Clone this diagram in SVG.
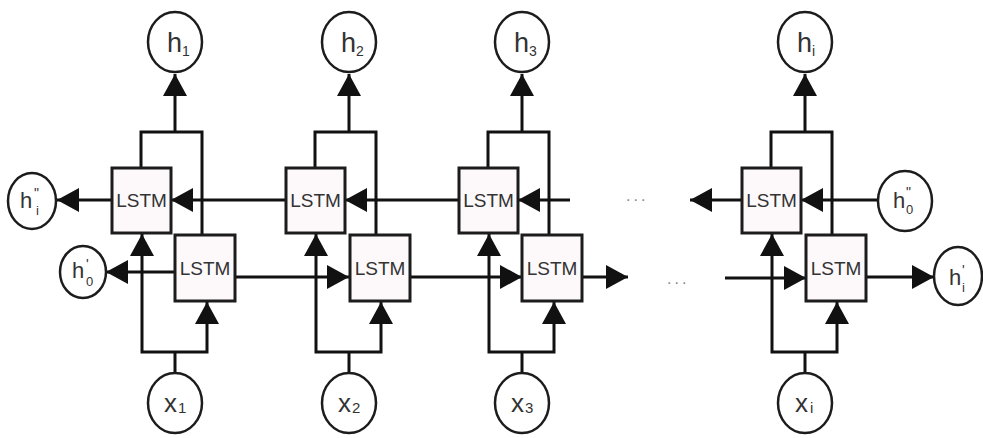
<svg xmlns="http://www.w3.org/2000/svg" width="983" height="438" viewBox="0 0 983 438">
  <style>
    .wire { fill: none; stroke: #111; stroke-width: 3; }
    .arr { marker-end: url(#head); }
    .box { fill: #fdf9fb; stroke: #1c1c1c; stroke-width: 3; }
    .node { fill: #fff; stroke: #1c1c1c; stroke-width: 2.5; }
    .cell { font-family: "Liberation Sans", Arial, sans-serif; font-size: 19px; fill: #333; text-anchor: middle; }
    .lbl { font-family: "Liberation Sans", Arial, sans-serif; fill: #333; }
    .big { font-size: 27px; }
    .mid { font-size: 22px; }
    .xl { font-size: 26px; }
    .sub { font-size: 14px; }
    .idx { font-size: 13px; }
    .xs { font-size: 15px; }
    .mark { font-size: 14px; }
    .dots { font-family: "Liberation Sans", Arial, sans-serif; font-size: 16px; fill: #888; letter-spacing: 3px; }
  </style>
  <defs>
    <marker id="head" markerUnits="userSpaceOnUse" markerWidth="22" markerHeight="24" refX="22" refY="12" orient="auto">
      <path d="M0,0 L22,12 L0,24 Z" fill="#111"/>
    </marker>
  </defs>

  <!-- connectors -->
  <g id="connectors">
    <!-- column 1 -->
    <path class="wire arr" d="M175,132 V74"/>
    <path class="wire" d="M141,168 V132 H202 V235"/>
    <path class="wire" d="M175,373 V352"/>
    <path class="wire arr" d="M175,352 H142 V234"/>
    <path class="wire arr" d="M175,352 H207 V302"/>
    <!-- column 2 -->
    <path class="wire arr" d="M349,132 V74"/>
    <path class="wire" d="M315,168 V132 H376 V235"/>
    <path class="wire" d="M349,373 V352"/>
    <path class="wire arr" d="M349,352 H316 V234"/>
    <path class="wire arr" d="M349,352 H381 V302"/>
    <!-- column 3 -->
    <path class="wire arr" d="M522,132 V74"/>
    <path class="wire" d="M488,168 V132 H549 V235"/>
    <path class="wire" d="M522,373 V352"/>
    <path class="wire arr" d="M522,352 H489 V234"/>
    <path class="wire arr" d="M522,352 H554 V302"/>
    <!-- column i -->
    <path class="wire arr" d="M805,132 V74"/>
    <path class="wire" d="M771,168 V132 H832 V235"/>
    <path class="wire" d="M805,373 V352"/>
    <path class="wire arr" d="M805,352 H772 V234"/>
    <path class="wire arr" d="M805,352 H837 V302"/>

    <!-- backward row -->
    <path class="wire arr" d="M112,200 H57"/>
    <path class="wire arr" d="M286,200 H171"/>
    <path class="wire arr" d="M459,200 H345"/>
    <path class="wire arr" d="M570,200 H518"/>
    <path class="wire arr" d="M742,200 H690"/>
    <path class="wire arr" d="M878,200 H801"/>

    <!-- forward row -->
    <path class="wire arr" d="M175,272 H106"/>
    <path class="wire arr" d="M235,277 H349"/>
    <path class="wire arr" d="M410,277 H522"/>
    <path class="wire arr" d="M582,277 H628"/>
    <path class="wire arr" d="M725,278 H806"/>
    <path class="wire arr" d="M865,277 H934"/>
  </g>

  <!-- LSTM cells -->
  <g id="lstm-b1"><rect class="box" x="112" y="168" width="59" height="65"/><text class="cell" x="141.5" y="207">LSTM</text></g>
  <g id="lstm-f1"><rect class="box" x="175" y="235" width="60" height="66"/><text class="cell" x="205" y="275">LSTM</text></g>
  <g id="lstm-b2"><rect class="box" x="286" y="168" width="59" height="65"/><text class="cell" x="315.5" y="207">LSTM</text></g>
  <g id="lstm-f2"><rect class="box" x="350" y="235" width="60" height="66"/><text class="cell" x="380" y="275">LSTM</text></g>
  <g id="lstm-b3"><rect class="box" x="459" y="168" width="59" height="65"/><text class="cell" x="488.5" y="207">LSTM</text></g>
  <g id="lstm-f3"><rect class="box" x="522" y="235" width="60" height="66"/><text class="cell" x="552" y="275">LSTM</text></g>
  <g id="lstm-bi"><rect class="box" x="742" y="168" width="59" height="65"/><text class="cell" x="771.5" y="207">LSTM</text></g>
  <g id="lstm-fi"><rect class="box" x="806" y="235" width="60" height="66"/><text class="cell" x="836" y="275">LSTM</text></g>

  <!-- outputs -->
  <g id="h1"><ellipse class="node" cx="175" cy="42" rx="27" ry="30"/><text class="lbl big" x="167" y="52">h<tspan class="sub" dy="4">1</tspan></text></g>
  <g id="h2"><ellipse class="node" cx="349" cy="42" rx="27" ry="30"/><text class="lbl big" x="341" y="52">h<tspan class="sub" dy="4">2</tspan></text></g>
  <g id="h3"><ellipse class="node" cx="522" cy="42" rx="27" ry="30"/><text class="lbl big" x="514" y="52">h<tspan class="sub" dy="4">3</tspan></text></g>
  <g id="hi"><ellipse class="node" cx="805" cy="42" rx="27" ry="30"/><text class="lbl big" x="797" y="52">h<tspan class="sub" dy="4">i</tspan></text></g>

  <!-- inputs -->
  <g id="x1"><ellipse class="node" cx="175" cy="403" rx="27" ry="30"/><text class="lbl xl" x="164" y="412">x<tspan class="xs" dx="1" dy="1">1</tspan></text></g>
  <g id="x2"><ellipse class="node" cx="349" cy="403" rx="27" ry="30"/><text class="lbl xl" x="338" y="412">x<tspan class="xs" dx="1" dy="1">2</tspan></text></g>
  <g id="x3"><ellipse class="node" cx="522" cy="403" rx="27" ry="30"/><text class="lbl xl" x="511" y="412">x<tspan class="xs" dx="1" dy="1">3</tspan></text></g>
  <g id="xi"><ellipse class="node" cx="805" cy="403" rx="27" ry="30"/><text class="lbl xl" x="795" y="412">x<tspan class="xs" dx="2" dy="1">i</tspan></text></g>

  <!-- initial / final states: prime mark stacked over the index -->
  <g id="h2-i">
    <ellipse class="node" cx="32" cy="201" rx="24" ry="28"/>
    <text class="lbl mid" x="20" y="208">h</text>
    <text class="lbl mark" x="34" y="198">"</text>
    <text class="lbl idx" x="36" y="215">i</text>
  </g>
  <g id="h1-0">
    <ellipse class="node" cx="83" cy="272" rx="23" ry="26"/>
    <text class="lbl mid" x="72" y="278">h</text>
    <text class="lbl mark" x="86" y="269">'</text>
    <text class="lbl idx" x="86" y="286">0</text>
  </g>
  <g id="h2-0">
    <ellipse class="node" cx="905" cy="201" rx="27" ry="30"/>
    <text class="lbl mid" x="893" y="208">h</text>
    <text class="lbl mark" x="906" y="197">"</text>
    <text class="lbl idx" x="906" y="214">0</text>
  </g>
  <g id="h1-i">
    <ellipse class="node" cx="958" cy="276" rx="24" ry="29"/>
    <text class="lbl mid" x="949" y="285">h</text>
    <text class="lbl mark" x="962" y="275">'</text>
    <text class="lbl idx" x="962" y="292">i</text>
  </g>

  <!-- gaps in the chain -->
  <text class="dots" x="626" y="201">...</text>
  <text class="dots" x="667" y="284">...</text>
</svg>
